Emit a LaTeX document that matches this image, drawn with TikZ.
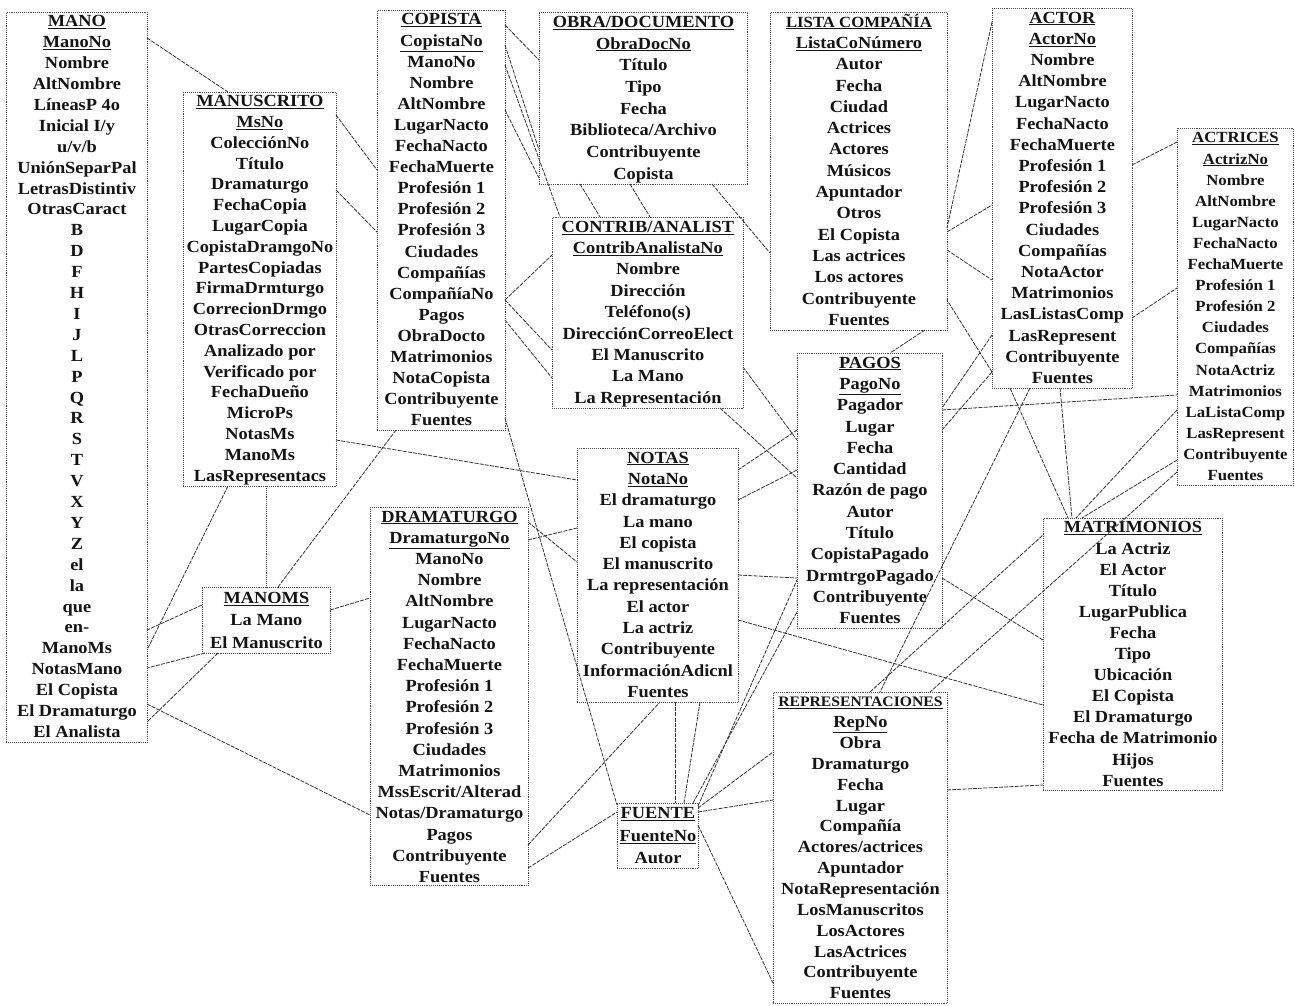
\documentclass[tikz,border=0pt]{standalone}
\usepackage{fontspec}
\setmainfont{Liberation Serif}[FakeStretch=1.08]
\usetikzlibrary{calc}
\newcommand\tabhead[2][17]{{\fontsize{#1}{#1}\selectfont\underline{#2}}}
\newcommand\tabkey[1]{\underline{#1}}
\begin{document}
\begin{tikzpicture}[x=1pt,y=-1pt,
  tbl/.style={draw=black!70, densely dotted, line width=0.9pt, inner sep=0pt, anchor=north west},
  rows/.style={font=\fontsize{17}{#1}\selectfont\bfseries, align=center, inner sep=0pt, anchor=north, text=black!92},
  link/.style={draw=black!80, line width=0.8pt, dash pattern=on 4pt off 1.2pt},
  dotlink/.style={draw=black!70, densely dotted, line width=0.9pt}]
\useasboundingbox (0,0) rectangle (1295,1006);
\fill[white] (0,0) rectangle (1295,1006);

% ---------- tables ----------
\node[tbl, minimum width=141pt, minimum height=730pt] (mano) at (6,12) {};
\node[rows=20.9] (manoT) at (mano.north) {\strut\tabhead{MANO}\\\tabkey{ManoNo}\\Nombre\\AltNombre\\LíneasP 4o\\Inicial I/y\\u/v/b\\UniónSeparPal\\LetrasDistintiv\\OtrasCaract\\B\\D\\F\\H\\I\\J\\L\\P\\Q\\R\\S\\T\\V\\X\\Y\\Z\\el\\la\\que\\en-\\ManoMs\\NotasMano\\El Copista\\El Dramaturgo\\El Analista};

\node[tbl, minimum width=153pt, minimum height=394pt] (manus) at (183,92) {};
\node[rows=20.8] (manusT) at (manus.north) {\strut\tabhead{MANUSCRITO}\\\tabkey{MsNo}\\ColecciónNo\\Título\\Dramaturgo\\FechaCopia\\LugarCopia\\CopistaDramgoNo\\PartesCopiadas\\FirmaDrmturgo\\CorrecionDrmgo\\OtrasCorreccion\\Analizado por\\Verificado por\\FechaDueño\\MicroPs\\NotasMs\\ManoMs\\LasRepresentacs};

\node[tbl, minimum width=128pt, minimum height=420pt] (copista) at (377,10) {};
\node[rows=21.1] (copistaT) at (copista.north) {\strut\tabhead{COPISTA}\\\tabkey{CopistaNo}\\ManoNo\\Nombre\\AltNombre\\LugarNacto\\FechaNacto\\FechaMuerte\\Profesión 1\\Profesión 2\\Profesión 3\\Ciudades\\Compañías\\CompañíaNo\\Pagos\\ObraDocto\\Matrimonios\\NotaCopista\\Contribuyente\\Fuentes};

\node[tbl, minimum width=208pt, minimum height=172pt] (obra) at (539,12) {};
\node[rows=21.7] (obraT) at (obra.north) {\strut\tabhead{OBRA/DOCUMENTO}\\\tabkey{ObraDocNo}\\Título\\Tipo\\Fecha\\Biblioteca/Archivo\\Contribuyente\\Copista};

\node[tbl, minimum width=191pt, minimum height=191pt] (contrib) at (552,217) {};
\node[rows=21.4] (contribT) at (contrib.north) {\strut\tabhead{CONTRIB/ANALIST}\\\tabkey{ContribAnalistaNo}\\Nombre\\Dirección\\Teléfono(s)\\DirecciónCorreoElect\\El Manuscrito\\La Mano\\La Representación};

\node[tbl, minimum width=177pt, minimum height=318pt] (lista) at (770,12) {};
\node[rows=21.3] (listaT) at (lista.north) {\strut\tabhead[15.5]{LISTA COMPAÑÍA}\\\tabkey{ListaCoNúmero}\\Autor\\Fecha\\Ciudad\\Actrices\\Actores\\Músicos\\Apuntador\\Otros\\El Copista\\Las actrices\\Los actores\\Contribuyente\\Fuentes};

\node[tbl, minimum width=140pt, minimum height=380pt] (actor) at (992,8) {};
\node[rows=21.2] (actorT) at (actor.north) {\strut\tabhead{ACTOR}\\\tabkey{ActorNo}\\Nombre\\AltNombre\\LugarNacto\\FechaNacto\\FechaMuerte\\Profesión 1\\Profesión 2\\Profesión 3\\Ciudades\\Compañías\\NotaActor\\Matrimonios\\LasListasComp\\LasRepresent\\Contribuyente\\Fuentes};

\node[tbl, minimum width=116pt, minimum height=357pt] (actrices) at (1177,128) {};
\node[rows=21.1, font=\fontsize{15.5}{21.1}\selectfont\bfseries] (actricesT) at (actrices.north) {\strut\tabhead[15.5]{ACTRICES}\\\tabkey{ActrizNo}\\Nombre\\AltNombre\\LugarNacto\\FechaNacto\\FechaMuerte\\Profesión 1\\Profesión 2\\Ciudades\\Compañías\\NotaActriz\\Matrimonios\\LaListaComp\\LasRepresent\\Contribuyente\\Fuentes};

\node[tbl, minimum width=145pt, minimum height=275pt] (pagos) at (797,353) {};
\node[rows=21.3] (pagosT) at (pagos.north) {\strut\tabhead{PAGOS}\\\tabkey{PagoNo}\\Pagador\\Lugar\\Fecha\\Cantidad\\Razón de pago\\Autor\\Título\\CopistaPagado\\DrmtrgoPagado\\Contribuyente\\Fuentes};

\node[tbl, minimum width=161pt, minimum height=254pt] (notas) at (577,448) {};
\node[rows=21.3] (notasT) at (notas.north) {\strut\tabhead{NOTAS}\\\tabkey{NotaNo}\\El dramaturgo\\La mano\\El copista\\El manuscrito\\La representación\\El actor\\La actriz\\Contribuyente\\InformaciónAdicnl\\Fuentes};

\node[tbl, minimum width=158pt, minimum height=378pt] (drama) at (370,507) {};
\node[rows=21.2] (dramaT) at (drama.north) {\strut\tabhead{DRAMATURGO}\\\tabkey{DramaturgoNo}\\ManoNo\\Nombre\\AltNombre\\LugarNacto\\FechaNacto\\FechaMuerte\\Profesión 1\\Profesión 2\\Profesión 3\\Ciudades\\Matrimonios\\MssEscrit/Alterad\\Notas/Dramaturgo\\Pagos\\Contribuyente\\Fuentes};

\node[tbl, minimum width=128pt, minimum height=66pt] (manoms) at (202,587) {};
\node[rows=22.8] (manomsT) at (manoms.north) {\strut\tabhead{MANOMS}\\La Mano\\El Manuscrito};

\node[tbl, minimum width=174pt, minimum height=311pt] (rep) at (773,692) {};
\node[rows=20.85] (repT) at (rep.north) {\strut\tabhead[14.5]{REPRESENTACIONES}\\\tabkey{RepNo}\\Obra\\Dramaturgo\\Fecha\\Lugar\\Compañía\\Actores/actrices\\Apuntador\\NotaRepresentación\\LosManuscritos\\LosActores\\LasActrices\\Contribuyente\\Fuentes};

\node[tbl, minimum width=81pt, minimum height=65pt] (fuente) at (617,803) {};
\node[rows=22.4] (fuenteT) at (fuente.north) {\strut\tabhead{FUENTE}\\\tabkey{FuenteNo}\\Autor};

\node[tbl, minimum width=179pt, minimum height=272pt] (matri) at (1043,518) {};
\node[rows=21.1] (matriT) at (matri.north) {\strut\tabhead{MATRIMONIOS}\\La Actriz\\El Actor\\Título\\LugarPublica\\Fecha\\Tipo\\Ubicación\\El Copista\\El Dramaturgo\\Fecha de Matrimonio\\Hijos\\Fuentes};

% ---------- connectors ----------
\draw[link] ($(mano.north west)+(141,26)$) -- ($(manus.north west)+(45,0)$);
\draw[link] ($(manus.north west)+(153,23)$) -- ($(copista.north west)+(0,160)$);
\draw[link] ($(manus.north west)+(153,98)$) -- ($(copista.north west)+(0,222)$);
\draw[link] ($(manus.north west)+(153,348)$) -- ($(notas.north west)+(0,32)$);
\draw[link] ($(manus.north west)+(45,394)$) -- ($(mano.north west)+(141,638)$);
\draw[dotlink] ($(manus.north west)+(83,394)$) -- ($(manoms.north west)+(64,0)$);
\draw[link] ($(manoms.north west)+(76,0)$) -- ($(copista.north west)+(19,420)$);
\draw[link] ($(manoms.north west)+(0,18)$) -- ($(mano.north west)+(141,618)$);
\draw[link] ($(manoms.north west)+(3,66)$) -- ($(mano.north west)+(141,656)$);
\draw[link] ($(manoms.north west)+(16,66)$) -- ($(mano.north west)+(141,710)$);
\draw[link] ($(mano.north west)+(141,692)$) -- ($(drama.north west)+(0,308)$);
\draw[link] ($(manoms.north west)+(128,23)$) -- ($(drama.north west)+(0,91)$);
\draw[link] ($(drama.north west)+(158,33)$) -- ($(notas.north west)+(0,80)$);
\draw[link] ($(drama.north west)+(158,15)$) -- ($(notas.north west)+(0,114)$);
\draw[link] ($(drama.north west)+(158,338)$) -- ($(notas.north west)+(83,254)$);
\draw[link] ($(drama.north west)+(158,361)$) -- ($(fuente.north west)+(0,9)$);
\draw[link] ($(copista.north west)+(128,408)$) -- ($(fuente.north west)+(0,2)$);
\draw[link] ($(notas.north west)+(98,254)$) -- ($(fuente.north west)+(58,0)$);
\draw[link] ($(notas.north west)+(123,254)$) -- ($(fuente.north west)+(67,0)$);
\draw[link] ($(fuente.north west)+(76,0)$) -- ($(pagos.north west)+(0,259)$);
\draw[link] ($(fuente.north west)+(81,3)$) -- ($(pagos.north west)+(0,227)$);
\draw[link] ($(fuente.north west)+(81,5)$) -- ($(rep.north west)+(0,60)$);
\draw[link] ($(fuente.north west)+(81,9)$) -- ($(rep.north west)+(0,108)$);
\draw[link] ($(fuente.north west)+(81,22)$) -- ($(rep.north west)+(0,291)$);
\draw[link] ($(copista.north west)+(128,15)$) -- ($(obra.north west)+(0,48)$);
\draw[link] ($(copista.north west)+(128,35)$) -- ($(obra.north west)+(0,138)$);
\draw[link] ($(copista.north west)+(128,55)$) -- ($(contrib.north west)+(8,0)$);
\draw[link] ($(copista.north west)+(128,100)$) -- ($(obra.north west)+(0,166)$);
\draw[link] ($(copista.north west)+(128,290)$) -- ($(contrib.north west)+(0,38)$);
\draw[link] ($(copista.north west)+(128,290)$) -- ($(contrib.north west)+(0,133)$);
\draw[link] ($(copista.north west)+(128,310)$) -- ($(contrib.north west)+(0,161)$);
\draw[link] ($(obra.north west)+(41,172)$) -- ($(contrib.north west)+(48,0)$);
\draw[link] ($(obra.north west)+(91,172)$) -- ($(contrib.north west)+(98,0)$);
\draw[link] ($(obra.north west)+(173,172)$) -- ($(lista.north west)+(0,241)$);
\draw[link] ($(contrib.north west)+(191,150)$) -- ($(pagos.north west)+(0,87)$);
\draw[link] ($(lista.north west)+(177,220)$) -- ($(actor.north west)+(0,197)$);
\draw[link] ($(lista.north west)+(177,238)$) -- ($(actor.north west)+(0,272)$);
\draw[link] ($(lista.north west)+(155,318)$) -- ($(pagos.north west)+(93,0)$);
\draw[link] ($(actor.north west)+(140,157)$) -- ($(actrices.north west)+(0,14)$);
\draw[link] ($(actor.north west)+(140,310)$) -- ($(actrices.north west)+(0,160)$);
\draw[link] ($(actor.north west)+(18,380)$) -- ($(matri.north west)+(25,0)$);
\draw[link] ($(actor.north west)+(68,380)$) -- ($(matri.north west)+(29,0)$);
\draw[link] ($(actrices.north west)+(0,282)$) -- ($(matri.north west)+(33,0)$);
\draw[link] ($(actrices.north west)+(0,332)$) -- ($(matri.north west)+(39,0)$);
\draw[link] ($(actor.north west)+(0,14)$) -- ($(lista.north west)+(177,216)$);
\draw[link] ($(actor.north west)+(0,327)$) -- ($(pagos.north west)+(145,55)$);
\draw[link] ($(actor.north west)+(0,364)$) -- ($(lista.north west)+(177,288)$);
\draw[link] ($(actor.north west)+(0,364)$) -- ($(pagos.north west)+(145,77)$);
\draw[link] ($(pagos.north west)+(145,57)$) -- ($(actrices.north west)+(0,267)$);
\draw[link] ($(actor.north west)+(38,380)$) -- ($(rep.north west)+(107,0)$);
\draw[link] ($(actrices.north west)+(0,344)$) -- ($(rep.north west)+(157,0)$);
\draw[link] ($(rep.north west)+(174,98)$) -- ($(matri.north west)+(0,267)$);
\draw[link] ($(notas.north west)+(161,172)$) -- ($(matri.north west)+(0,187)$);
\draw[link] ($(notas.north west)+(161,127)$) -- ($(pagos.north west)+(0,225)$);
\draw[link] ($(pagos.north west)+(145,225)$) -- ($(matri.north west)+(0,122)$);
\draw[link] ($(notas.north west)+(161,22)$) -- ($(pagos.north west)+(0,77)$);
\draw[link] ($(notas.north west)+(161,52)$) -- ($(pagos.north west)+(0,117)$);
\draw[link] ($(contrib.north west)+(168,191)$) -- ($(pagos.north west)+(0,125)$);
\draw[link] ($(rep.north west)+(97,0)$) -- ($(matri.north west)+(0,17)$);
\end{tikzpicture}
\end{document}
